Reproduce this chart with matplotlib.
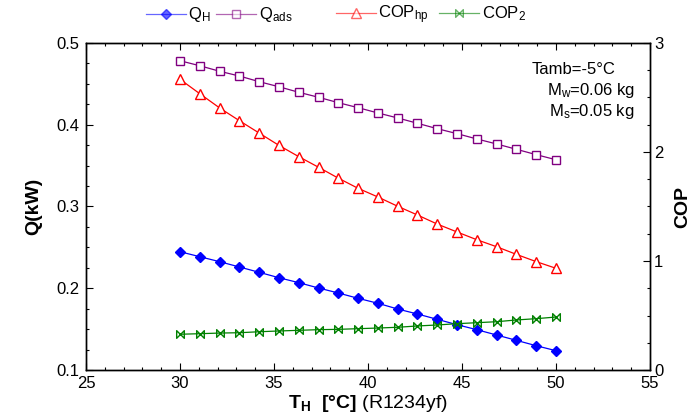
import matplotlib
matplotlib.use("Agg")
import matplotlib.pyplot as plt
from matplotlib.path import Path
from matplotlib.ticker import MultipleLocator

plt.rcParams['font.family'] = ['Liberation Sans', 'DejaVu Sans']
plt.rcParams['mathtext.fontset'] = 'custom'
plt.rcParams['mathtext.rm'] = 'Liberation Sans'
plt.rcParams['mathtext.it'] = 'Liberation Sans'
plt.rcParams['mathtext.bf'] = 'Liberation Sans:bold'

T_H = [30.00, 31.05, 32.11, 33.16, 34.21, 35.26, 36.32, 37.37, 38.42, 39.47,
       40.53, 41.58, 42.63, 43.68, 44.74, 45.79, 46.84, 47.89, 48.95, 50.00]

Q_H = [0.2447, 0.2386, 0.2325, 0.2260, 0.2195, 0.2129, 0.2068, 0.2003, 0.1942, 0.1877,
       0.1816, 0.1746, 0.1685, 0.1620, 0.1554, 0.1493, 0.1428, 0.1363, 0.1297, 0.1236]

Q_ads = [0.4783, 0.4722, 0.4654, 0.4596, 0.4527, 0.4465, 0.4397, 0.4336, 0.4270, 0.4209,
         0.4144, 0.4083, 0.4018, 0.3952, 0.3891, 0.3826, 0.3765, 0.3700, 0.3634, 0.3572]

COP_hp = [2.667, 2.535, 2.404, 2.287, 2.174, 2.061, 1.957, 1.860, 1.760, 1.667,
          1.587, 1.502, 1.422, 1.339, 1.266, 1.195, 1.131, 1.061, 0.994, 0.933]

COP_2 = [0.328, 0.333, 0.339, 0.342, 0.351, 0.358, 0.364, 0.370, 0.373, 0.379,
         0.385, 0.392, 0.404, 0.413, 0.425, 0.434, 0.443, 0.459, 0.471, 0.486]

bowtie = Path([(-1, -1), (1, 1), (1, -1), (-1, 1), (-1, -1)],
              [Path.MOVETO, Path.LINETO, Path.LINETO, Path.LINETO, Path.CLOSEPOLY])

W, H = 694, 419
fig = plt.figure(figsize=(W / 100, H / 100), dpi=100)
ax = fig.add_axes([86 / W, 49 / H, 564 / W, 327 / H])
ax2 = ax.twinx()

c_blue = '#0000ff'
c_purple = '#800080'
c_red = '#ff0000'
c_green = '#008000'

l1, = ax.plot(T_H, Q_H, color=c_blue, lw=0.9, marker='D', ms=5,
              mfc=c_blue, mec=c_blue, label=r'$\mathregular{Q_H}$')
l2, = ax.plot(T_H, Q_ads, color=c_purple, lw=0.9, marker='s', ms=6,
              mfc='white', mec=c_purple, mew=1.0, label=r'$\mathregular{Q_{ads}}$')
l3, = ax2.plot(T_H, COP_hp, color=c_red, lw=0.9, marker='^', ms=6.5,
               mfc='white', mec=c_red, mew=1.0, label=r'$\mathregular{COP_{hp}}$')
l4, = ax2.plot(T_H, COP_2, color=c_green, lw=0.9, marker=bowtie, ms=5.5,
               mfc='none', mec=c_green, mew=1.0, label=r'$\mathregular{COP_2}$')

ax.set_xlim(25, 55)
ax.set_ylim(0.1, 0.5)
ax2.set_ylim(0, 3)

ax.xaxis.set_major_locator(MultipleLocator(5))
ax.xaxis.set_minor_locator(MultipleLocator(1))
ax.yaxis.set_major_locator(MultipleLocator(0.1))
ax.yaxis.set_minor_locator(MultipleLocator(0.025))
ax2.yaxis.set_major_locator(MultipleLocator(1))
ax2.yaxis.set_minor_locator(MultipleLocator(0.25))

ax.tick_params(axis='both', which='both', direction='in', labelsize=12, colors='black')
ax.tick_params(axis='x', which='both', top=True, pad=4)
ax.tick_params(axis='y', pad=5)
ax.tick_params(which='major', length=5, width=0.8)
ax.tick_params(which='minor', length=2.5, width=0.8)
ax2.tick_params(axis='y', which='both', direction='in', labelsize=12, pad=3)
ax2.tick_params(which='major', length=5, width=0.8)
ax2.tick_params(which='minor', length=2.5, width=0.8)

for a in (ax, ax2):
    for s in a.spines.values():
        s.set_linewidth(1.0)

ax.set_ylabel('Q(kW)', fontsize=14, fontweight='bold', labelpad=10)
ax2.set_ylabel('COP', fontsize=14, fontweight='bold', labelpad=8)
ax.set_xlabel(r'$\mathbf{T_H}$  $\mathbf{[°C]}$ (R1234yf)', fontsize=14, labelpad=2)

fig.text(615 / W, 1 - 69 / H, 'Tamb=-5°C', ha='right', va='center', fontsize=12)
fig.text(635 / W, 1 - 91 / H, r'$\mathregular{M_w}$=0.06 kg', ha='right', va='center', fontsize=12)
fig.text(635 / W, 1 - 111 / H, r'$\mathregular{M_s}$=0.05 kg', ha='right', va='center', fontsize=12)

leg1 = fig.legend(handles=[l1, l2], loc='center left', bbox_to_anchor=(146 / W, 1 - 15 / H),
                  ncol=2, frameon=False, fontsize=12, handlelength=2.4,
                  handletextpad=0.15, columnspacing=0.3, borderpad=0.0, borderaxespad=0.0)
leg2 = fig.legend(handles=[l3, l4], loc='center left', bbox_to_anchor=(336 / W, 1 - 15 / H),
                  ncol=2, frameon=False, fontsize=12, handlelength=2.4,
                  handletextpad=0.15, columnspacing=0.6, borderpad=0.0, borderaxespad=0.0)
for lg in (leg1, leg2):
    for h in lg.legend_handles:
        h.set_alpha(0.6)

fig.savefig('out.png', dpi=100)
